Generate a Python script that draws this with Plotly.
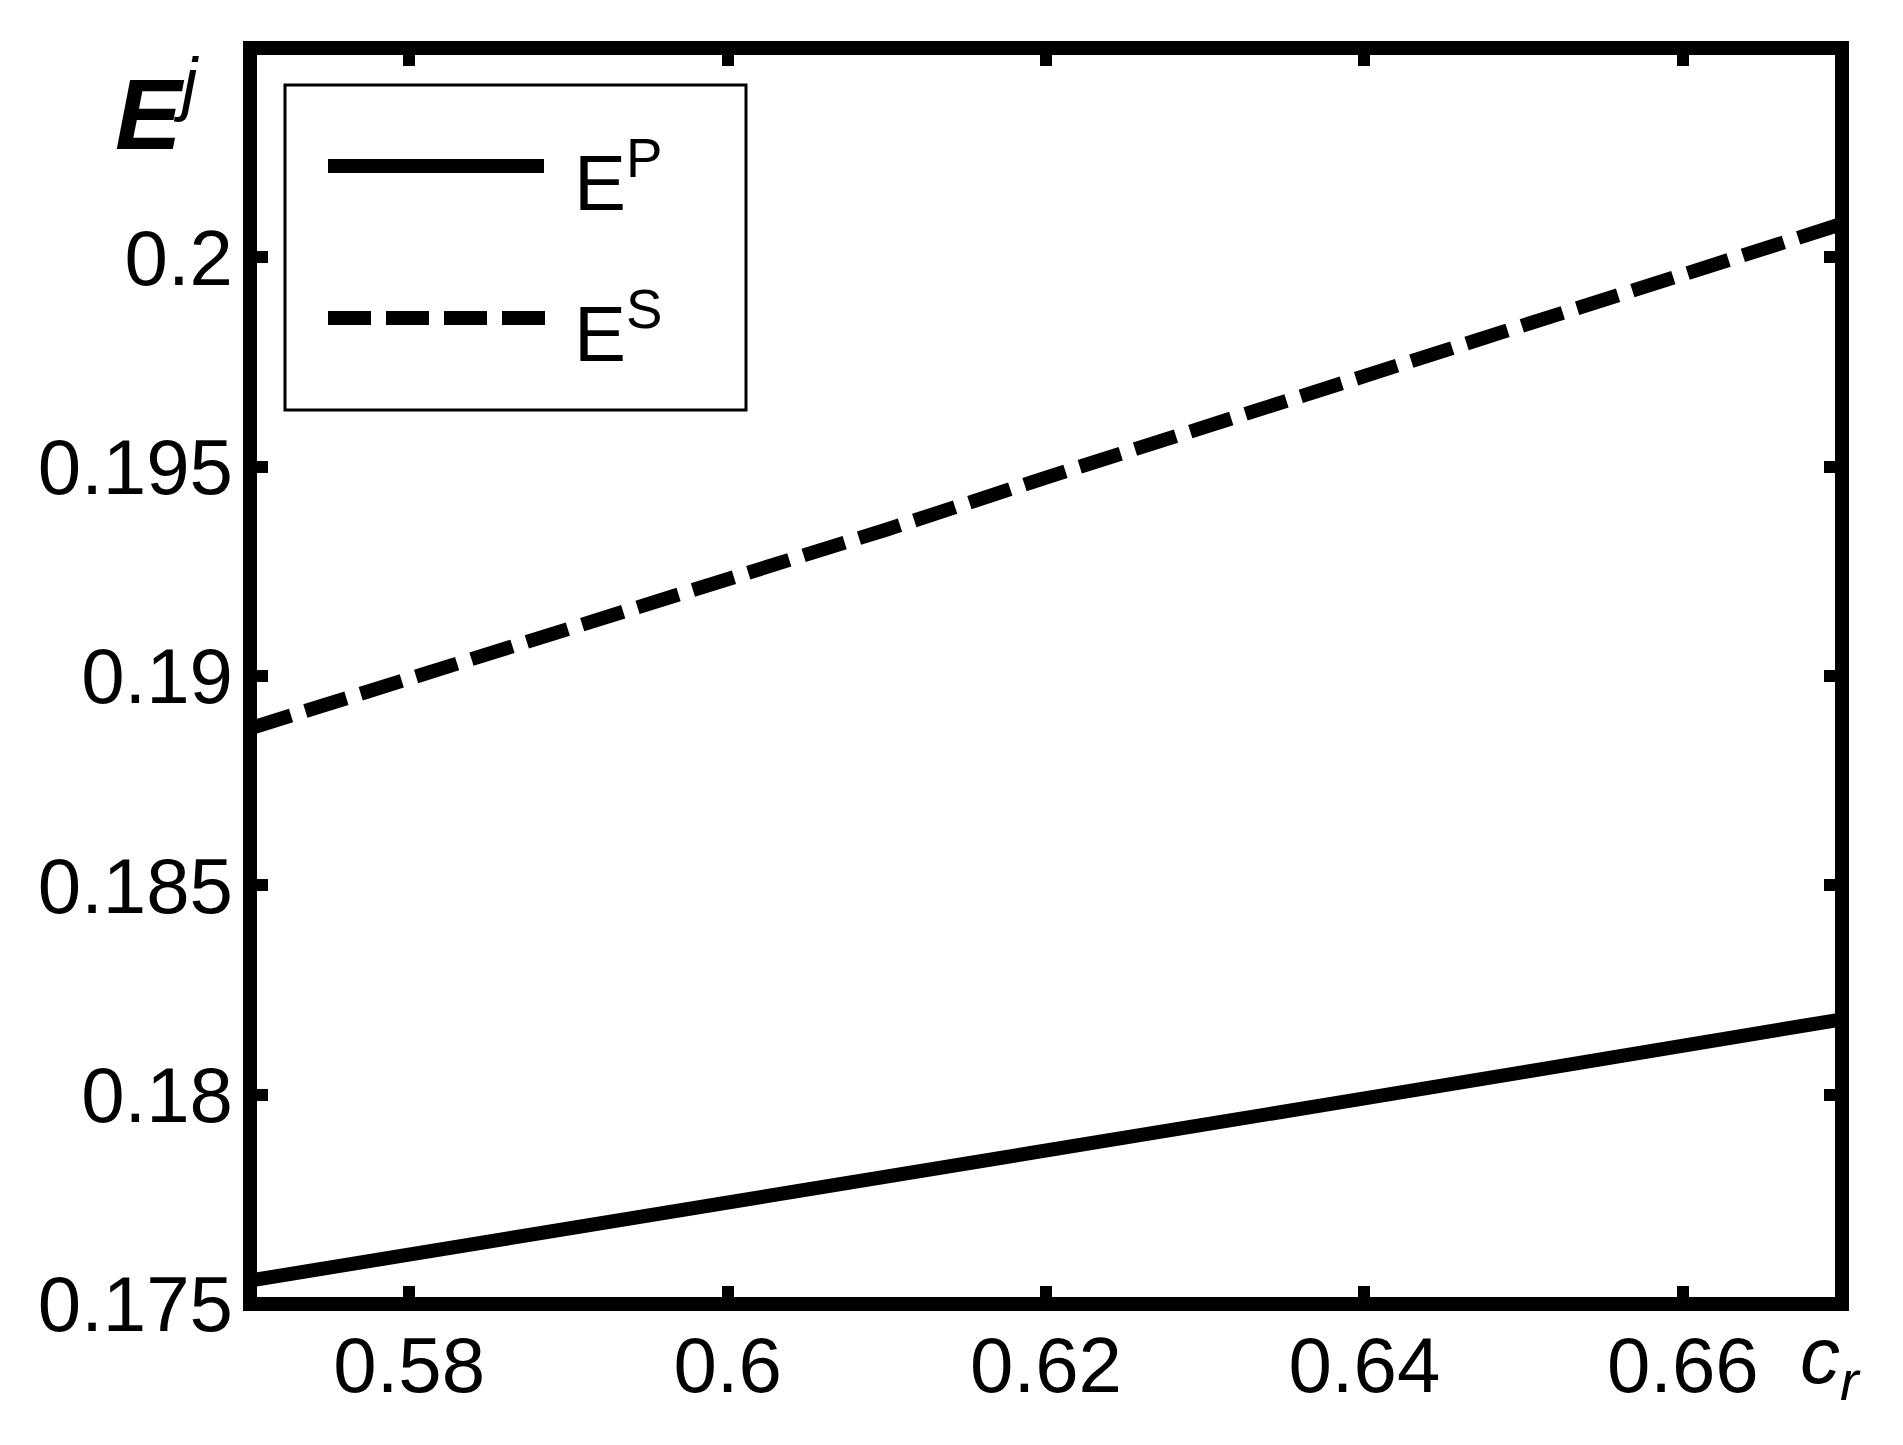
import plotly.graph_objects as go

# data
c_r = [0.57, 0.58, 0.59, 0.60, 0.61, 0.62, 0.63, 0.64, 0.65, 0.66, 0.67]
E_P = [0.17556, 0.17617, 0.17679, 0.17741, 0.17803, 0.17865, 0.17928, 0.17991, 0.18054, 0.18117, 0.18180]
E_S = [0.18875, 0.18992, 0.19108, 0.19227, 0.19350, 0.19474, 0.19595, 0.19718, 0.19840, 0.19960, 0.20080]

x_ticks = [0.58, 0.60, 0.62, 0.64, 0.66]
x_ticktext = ['0.58', '0.6', '0.62', '0.64', '0.66']
y_ticks = [0.175, 0.18, 0.185, 0.19, 0.195, 0.2]
y_ticktext = ['0.175', '0.18', '0.185', '0.19', '0.195', '0.2']

# the page body keeps its default 8px margin, so the figure is 16px smaller
OFF = 8
W, H = 1903 - 2 * OFF, 1445 - 2 * OFF
# plot edges (window pixels) sit on the centre of the thick frame
LEFT, RIGHT, TOP, BOTTOM = 250, 1842, 48, 1304
L, T = LEFT - OFF, TOP - OFF
R, B = W - (RIGHT - OFF), H - (BOTTOM - OFF)
PW, PH = RIGHT - LEFT, BOTTOM - TOP
FONT = 'Liberation Sans, Arial, sans-serif'


def px(x):
    return (x - LEFT) / PW


def py(y):
    return (BOTTOM - y) / PH


fig = go.Figure()
fig.add_trace(go.Scatter(x=c_r, y=E_P, mode='lines', name='E<sup>P</sup>',
                         line=dict(color='black', width=14)))
fig.add_trace(go.Scatter(x=c_r, y=E_S, mode='lines', name='E<sup>S</sup>',
                         line=dict(color='black', width=14, dash='43px,15px')))

axis_common = dict(showline=False, mirror='ticks',
                   ticks='inside', ticklen=18, tickwidth=12, tickcolor='black',
                   showgrid=False, zeroline=False,
                   tickfont=dict(family=FONT, size=78, color='black'))

fig.update_xaxes(range=[0.57, 0.67], tickvals=x_ticks, ticktext=x_ticktext,
                 ticklabelstandoff=9, **axis_common)
fig.update_yaxes(range=[0.175, 0.205], tickvals=y_ticks, ticktext=y_ticktext,
                 ticklabelstandoff=16, **axis_common)

# thick box frame centred on the plot edges
fig.add_shape(type='rect', xref='paper', yref='paper', x0=0, x1=1, y0=0, y1=1,
              line=dict(color='black', width=14), layer='above')

# legend box drawn by hand so the line samples are long like the original
fig.add_shape(type='rect', xref='paper', yref='paper',
              x0=px(285), x1=px(746), y0=py(410), y1=py(85),
              line=dict(color='black', width=3), fillcolor='white', layer='above')
fig.add_shape(type='line', xref='paper', yref='paper',
              x0=px(328), x1=px(544), y0=py(166), y1=py(166),
              line=dict(color='black', width=14))
fig.add_shape(type='line', xref='paper', yref='paper',
              x0=px(328), x1=px(546), y0=py(318), y1=py(318),
              line=dict(color='black', width=14, dash='43px,15px'))
fig.add_annotation(xref='paper', yref='paper', x=px(572), y=py(229),
                   xanchor='left', yanchor='bottom', showarrow=False,
                   text='E<sup>P</sup>', font=dict(family=FONT, size=78, color='black'))
fig.add_annotation(xref='paper', yref='paper', x=px(572), y=py(380),
                   xanchor='left', yanchor='bottom', showarrow=False,
                   text='E<sup>S</sup>', font=dict(family=FONT, size=78, color='black'))

# axis titles
fig.add_annotation(xref='paper', yref='paper', x=px(113), y=py(172),
                   xanchor='left', yanchor='bottom', showarrow=False,
                   text='<b><i>E</i></b><sup><i>j</i></sup>',
                   font=dict(family=FONT, size=100, color='black'))
fig.add_annotation(xref='paper', yref='paper', x=px(1798), y=py(1309),
                   xanchor='left', yanchor='top', showarrow=False,
                   text='<i>c</i><sub><i>r</i></sub>',
                   font=dict(family=FONT, size=80, color='black'))

fig.update_layout(width=W, height=H, margin=dict(l=L, r=R, t=T, b=B),
                  paper_bgcolor='white', plot_bgcolor='white', showlegend=False)

fig.write_html('out.html')
